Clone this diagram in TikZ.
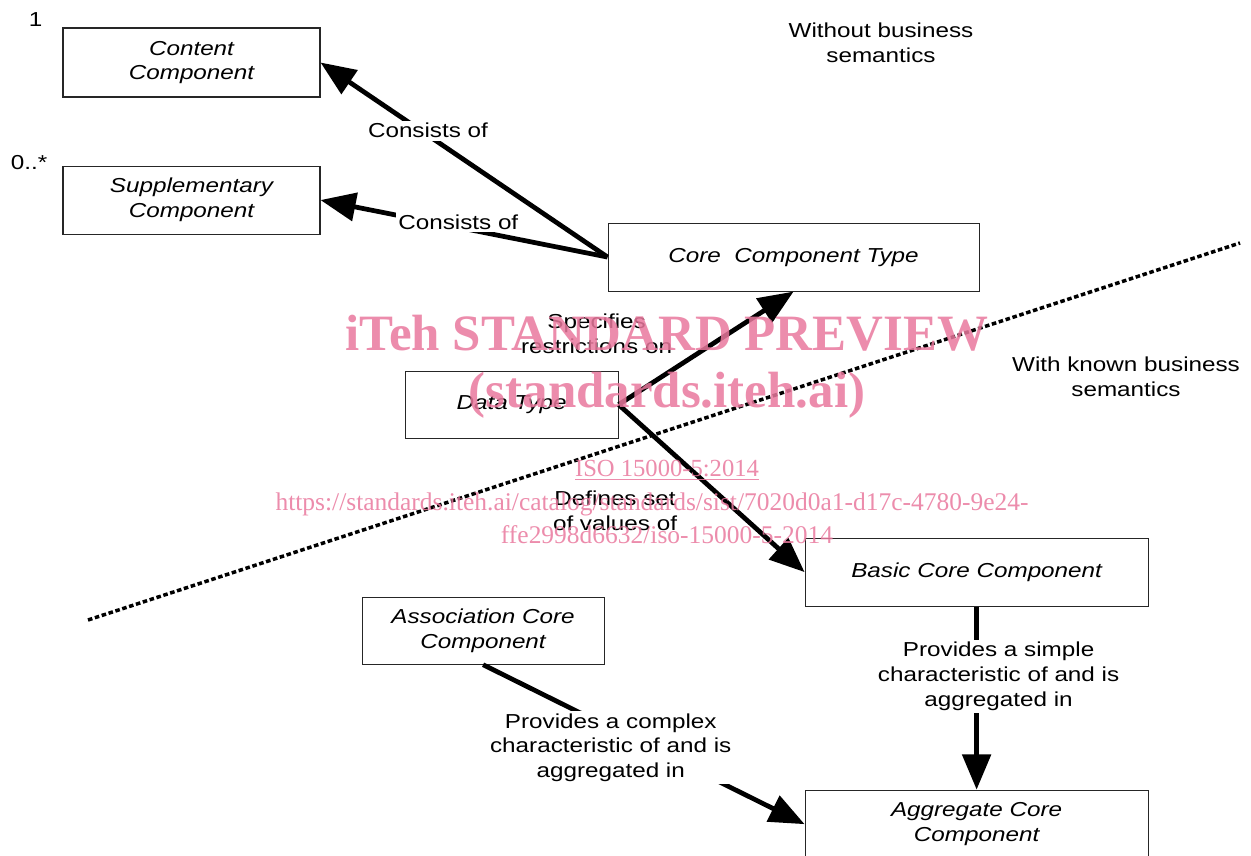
\documentclass[tikz,border=0pt]{standalone}
\usepackage{fontspec}
\setmainfont{Liberation Sans}[FakeStretch=1.2]
\newfontfamily\wmfont{Liberation Serif}
\usepackage{tikz}
\usetikzlibrary{arrows.meta, positioning}
\definecolor{wmpink}{RGB}{233,120,157}

\tikzset{
	comp/.style={draw=black!85, line width=0.6pt, align=center, inner sep=2pt,
		font=\fontsize{11.5}{14}\selectfont\itshape},
	conn/.style={draw, line width=2.7pt, -{Triangle[length=20pt, width=16pt]}},
	lbl/.style={fill=white, align=center, inner sep=1.5pt, font=\fontsize{11.5}{14}\selectfont},
	note/.style={align=center, font=\fontsize{11.5}{14}\selectfont},
	sep/.style={line width=2pt, dash pattern=on 2.6pt off 1.5pt},
	wm/.style={text=wmpink, opacity=0.85}
}

\begin{document}
\begin{tikzpicture}

\useasboundingbox (0,0) rectangle (25.02,-17.12);

\node [comp, minimum width=5.14cm, minimum height=1.38cm] (cc) at (3.83,-1.25) {
	Content \\ Component};

\node [comp, minimum width=5.14cm, minimum height=1.36cm, below=1.36cm of cc] (sc) {
	Supplementary \\ Component};

\node [comp, minimum width=7.42cm, minimum height=1.36cm, right=5.74cm of sc, yshift=-1.14cm] (cct) {
	Core\ \ Component Type};

\node [comp, minimum width=4.26cm, minimum height=1.34cm, below=1.58cm of cct, xshift=-5.64cm] (dt) {
	Data Type};

\node [comp, minimum width=6.86cm, minimum height=1.36cm, right=3.72cm of dt, yshift=-3.35cm] (bcc) {
	Basic Core Component};

\node [comp, minimum width=6.86cm, minimum height=1.36cm, below=3.66cm of bcc] (agg) {
	Aggregate Core \\ Component};

\node [comp, minimum width=4.84cm, minimum height=1.34cm, left=4cm of agg, yshift=3.87cm] (acc) {
	Association Core \\ Component};

\node [note, left=0.28cm of cc.north west, yshift=0.16cm] (m1) {1};
\node [note, left=0.18cm of sc.north west, yshift=0.06cm] (m2) {0..*};

\node [note] (wo) at (17.62,-0.86) {Without business \\ semantics};
\node [note] (wk) at (22.52,-7.54) {With known business \\ semantics};

\node [note, above=0.22cm of dt, xshift=1.7cm] (spec) {Specifies \\ restrictions on};
\node [note, below=0.92cm of dt, xshift=2.07cm] (defs) {Defines set \\ of values of};

% business semantics border
\coordinate (dl) at (1.76,-12.40);
\coordinate (dr) at (24.8,-4.86);
\draw [sep] (dl) -- (dr);

\path (cct.west) edge [conn] node [lbl, pos=0.65, xshift=0.14cm] {Consists of} (cc.east);
\path (cct.west) edge [conn] node [lbl, pos=0.52, yshift=0.1cm] {Consists of} (sc.east);
\path (dt.east)  edge [conn] (cct.south);
\path (dt.east)  edge [conn] (bcc.west);
\path (bcc)      edge [conn] node [lbl, pos=0.38, xshift=0.44cm] {
	Provides a simple \\ characteristic of and is \\ aggregated in} (agg);
\path (acc.south) edge [conn] node [lbl, pos=0.45, xshift=-0.34cm, yshift=-0.22cm] {
	Provides a complex \\ characteristic of and is \\ aggregated in} (agg.west);

% watermark
\node [wm, font=\wmfont\fontsize{29}{32}\selectfont\bfseries] (wm1) at (13.34,-6.66) {iTeh STANDARD PREVIEW};
\node [wm, font=\wmfont\fontsize{29}{32}\selectfont\bfseries] (wm2) at (13.34,-7.9) {(standards.iteh.ai)};
\node [wm, font=\wmfont\fontsize{14}{16}\selectfont] (iso) at (13.34,-9.4) {\underline{ISO 15000-5:2014}};
\node [wm, font=\wmfont\fontsize{14.5}{16}\selectfont] (url1) at (13.04,-10.08) {https://standards.iteh.ai/catalog/standards/sist/7020d0a1-d17c-4780-9e24-};
\node [wm, font=\wmfont\fontsize{14.5}{16}\selectfont] (url2) at (13.34,-10.7) {ffe2998d6632/iso-15000-5-2014};

\end{tikzpicture}
\end{document}
